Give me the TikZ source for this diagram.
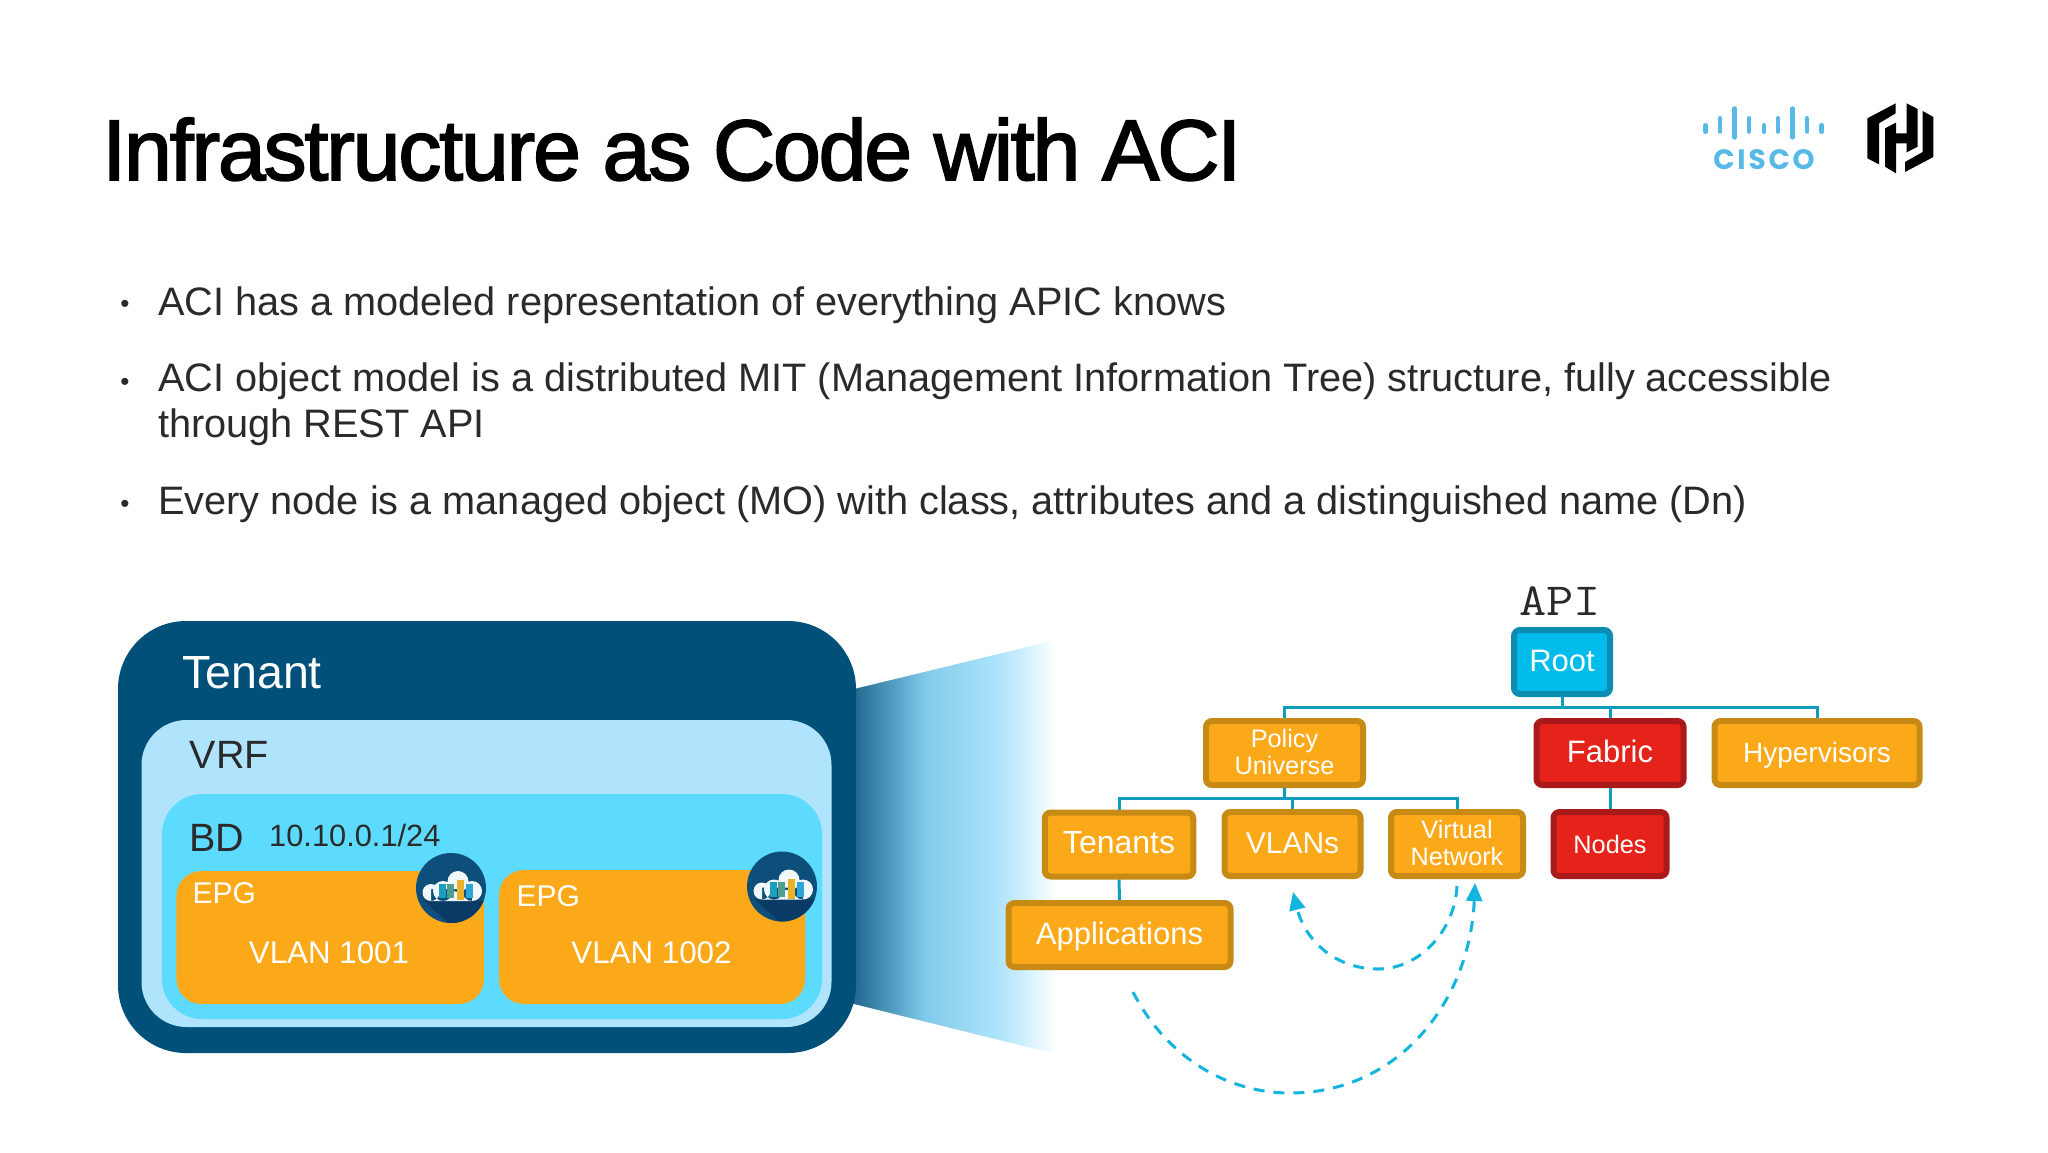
\documentclass[tikz,border=0pt]{standalone}
\usepackage{fontspec}
\usepackage{graphicx}
\setmainfont{Liberation Sans}
\newfontfamily\titlefont{Liberation Sans}[FakeBold=2,LetterSpace=-2.5]
\newfontfamily\logofont{Poppins}[LetterSpace=10]
\usetikzlibrary{arrows.meta}
\definecolor{tenantblue}{HTML}{00507A}
\definecolor{vrfblue}{HTML}{B0E4FD}
\definecolor{bdblue}{HTML}{5CDBFF}
\definecolor{epgorange}{HTML}{FCA919}
\definecolor{orangeedge}{HTML}{C78A14}
\definecolor{redfill}{HTML}{E5231B}
\definecolor{rededge}{HTML}{AB1A1A}
\definecolor{rootfill}{HTML}{00BCEB}
\definecolor{rootedge}{HTML}{0B8CB0}
\definecolor{linkblue}{HTML}{0F9CBD}
\definecolor{dashblue}{HTML}{12B5DD}
\definecolor{bodytext}{HTML}{2A2A2A}
\definecolor{ciscoblue}{HTML}{56B9E8}
\definecolor{iconblue}{HTML}{0D4F7A}
\definecolor{icondark}{HTML}{0A3A66}
\definecolor{srvA}{HTML}{1E9FBF}
\definecolor{srvB}{HTML}{4F9E8E}
\definecolor{srvC}{HTML}{E9B32A}
\definecolor{srvD}{HTML}{2BA6D6}
\definecolor{cloudwhite}{HTML}{F1F8FB}
\definecolor{fa}{HTML}{1F628A}
\definecolor{fb}{HTML}{4F9BC0}
\definecolor{fc}{HTML}{82CBEB}
\definecolor{fd}{HTML}{AAE2FB}
\definecolor{fe}{HTML}{D0F0FD}
\pgfdeclarehorizontalshading{funnelshade}{100bp}{color(0bp)=(fa); color(25bp)=(fa); color(35bp)=(fb); color(43.5bp)=(fc); color(60bp)=(fd); color(67.5bp)=(fe); color(75bp)=(white); color(100bp)=(white)}
\newcommand{\fs}[2]{\fontsize{#1}{#2}\selectfont}
\newcommand{\lift}{\rule[-2.6pt]{0pt}{0pt}}
\tikzset{
  every node/.style={inner sep=0pt},
  tbox/.style={rectangle, rounded corners=6pt, line width=6pt, minimum height=64pt,
    align=center, text=white, font=\fs{31}{28}},
  one/.style={text height=24pt, text depth=5.4pt},
  small/.style={font=\fs{25.3}{27.6}},
  oran/.style={fill=epgorange, draw=orangeedge},
  redb/.style={fill=redfill, draw=rededge},
  rootb/.style={fill=rootfill, draw=rootedge},
  link/.style={draw=linkblue, line width=3pt},
  dashed arc/.style={draw=dashblue, line width=3pt, dash pattern=on 11pt off 9pt,
    -{Triangle[length=18pt,width=16pt,fill=dashblue]}},
  bullet/.style={anchor=base, text=bodytext, font=\fs{26}{26}},
  body/.style={anchor=base west, text=bodytext, font=\fs{39.7}{46}},
  lab/.style={anchor=base west},
  ciscobar/.style={draw=ciscoblue, line width=4.6pt, line cap=round},
  pics/cloudicon/.style={code={
    \fill[iconblue] (0,0) circle (35);
    \begin{scope}
      \clip (0,0) circle (35);
      \fill[icondark] (-27,12.7) -- (34,12.7) -- (36,36) -- (-2,36) -- cycle;
    \end{scope}
    \fill[cloudwhite] (-20,4.5) circle (8.5) (-8,3) circle (10) (7,-6.5) circle (10.5) (21,3) circle (10)
      (-20,1) rectangle (21,13);
    \fill[srvA] (-12.3,-4.5) rectangle (-5.5,10);
    \fill[srvB] (-4,-4.5) rectangle (3,10);
    \fill[srvC] (5.5,-8) rectangle (13,12);
    \fill[srvD] (14.5,-4.5) rectangle (21.5,10);
  }}
}
\begin{document}
\begin{tikzpicture}[x=1pt,y=-1pt]
\useasboundingbox (0,0) rectangle (2048,1152);
\fill[white] (0,0) rectangle (2048,1152);

% Title and bullets
\node[lab, font=\fs{86}{86}\titlefont, text=black] (title) at (102,180) {Infrastructure as Code with ACI};
\node[bullet] (b1) at (125,312) {•};
\node[body] (t1) at (158,315) {ACI has a modeled representation of everything APIC knows};
\node[bullet] (b2) at (125,390) {•};
\node[anchor=north west, align=left, text=bodytext, font=\fs{39.7}{46}] (t2) at (158,359.5)
  {\strut ACI object model is a distributed MIT (Management Information Tree) structure, fully accessible\\through REST API};
\node[bullet] (b3) at (125,512.5) {•};
\node[body] (t3) at (158,514) {Every node is a managed object (MO) with class, attributes and a distinguished name (Dn)};

% Cisco logo
\foreach \x/\a/\b in {1705.7/125.3/131.7,1720/118.3/131.5,1734.7/108.5/137.3,1749/118.3/131.5,1764/125.3/131.7,1778/118.3/131.5,1792.7/108.5/137.3,1807/118.3/131.5,1821.7/125.3/131.7}
  \draw[ciscobar] (\x,\a) -- (\x,\b);
\node[anchor=base, text=ciscoblue, font=\fs{28}{28}\logofont\bfseries] (cisco) at (1764,169.5) {CISCO};

% HashiCorp logo
\begin{scope}[shift={(1860,95)},scale=0.3333]
  \fill[black] (22,70) -- (107,25) -- (107,55) -- (57,85) -- (57,208) -- (22,190) -- cycle;
  \fill[black] (75,100) -- (108,83) -- (108,115) -- (140,115) -- (140,25) -- (173,42) -- (173,155) -- (140,172) -- (140,145) -- (108,145) -- (108,235) -- (75,215) -- cycle;
  \fill[black] (220,186) -- (135,231) -- (135,201) -- (188,171) -- (188,48) -- (220,66) -- cycle;
\end{scope}

% Funnel
\path[shading=funnelshade] (850,690) -- (1056,640) -- (1056,1054) -- (850,1003) -- cycle;

% Nested panels
\node[rectangle, rounded corners=68pt, fill=tenantblue, minimum width=738pt, minimum height=432pt] (tenant) at (487,837) {};
\node[rectangle, rounded corners=45pt, fill=vrfblue, minimum width=690pt, minimum height=307pt] (vrf) at (486.5,873.5) {};
\node[rectangle, rounded corners=40pt, fill=bdblue, minimum width=660pt, minimum height=225pt] (bd) at (492,906.5) {};
\node[rectangle, rounded corners=25pt, fill=epgorange, minimum width=307.5pt, minimum height=133pt] (epgA) at (330.2,937.5) {};
\node[rectangle, rounded corners=25pt, fill=epgorange, minimum width=306pt, minimum height=134pt] (epgB) at (652,937) {};
\pic at (451,888) {cloudicon};
\pic at (782,886.5) {cloudicon};
\node[lab, text=white, font=\fs{46.5}{46.5}] (ltenant) at (182,688) {Tenant};
\node[lab, text=bodytext, font=\fs{39.5}{39.5}] (lvrf) at (189.5,768) {VRF};
\node[lab, text=bodytext, font=\fs{39.5}{39.5}] (lbd) at (189,851) {BD};
\node[lab, text=bodytext, font=\fs{30.8}{30.8}] (lip) at (269,846) {10.10.0.1/24};
\node[lab, text=white, font=\fs{30}{30}] (lepgA) at (192.5,903) {EPG};
\node[lab, text=white, font=\fs{30}{30}] (lepgB) at (516.5,906) {EPG};
\node[anchor=base, text=white, font=\fs{31.3}{31.3}] (vlanA) at (329,963.5) {VLAN 1001};
\node[anchor=base, text=white, font=\fs{31.3}{31.3}] (vlanB) at (651.5,963.5) {VLAN 1002};

% Tree
\node[anchor=base, text=bodytext, font=\fs{46}{46}\ttfamily] (api) at (1560,615) {\scalebox{1.15}[1]{API}};
\node[tbox, rootb, one, minimum width=96pt] (root) at (1562,662) {Root};
\node[tbox, oran, small, minimum width=157pt] (policy) at (1284.5,753) {Policy\\Universe\lift};
\node[tbox, redb, one, minimum width=147pt] (fabric) at (1610,753) {Fabric};
\node[tbox, oran, one, font=\fs{28}{28}, minimum width=205pt] (hyper) at (1817,753) {Hypervisors};
\node[tbox, oran, one, font=\fs{32}{32}, minimum width=148.5pt] (tenants) at (1119,844.5) {Tenants};
\node[tbox, oran, one, font=\fs{30}{30}, minimum width=136pt] (vlans) at (1292.5,844) {VLANs};
\node[tbox, oran, small, minimum width=132pt] (vn) at (1457,844) {Virtual\\Network\lift};
\node[tbox, redb, one, small, minimum width=113pt] (nodes) at (1610,844) {Nodes};
\node[tbox, oran, one, minimum width=222pt] (apps) at (1119.5,935) {Applications};

\coordinate (busA) at (1562,707);
\coordinate (busB) at (1284.5,798);
\draw[link] (root.south) -- (busA);
\draw[link] (busA) -| (policy.north);
\draw[link] (busA) -| (fabric.north);
\draw[link] (busA) -| (hyper.north);
\draw[link] (policy.south) -- (busB);
\draw[link] (busB) -| (tenants.north);
\draw[link] (busB) -| (vlans.north);
\draw[link] (busB) -| (vn.north);
\draw[link] (fabric.south) -- (nodes.north);
\draw[link] (tenants.south) -- (apps.north);

% Dashed arcs
\coordinate (arcAs) at (1457,886);
\coordinate (arcAe) at (1293,892);
\coordinate (arcBs) at (1133,992);
\coordinate (arcBe) at (1475,883);
\draw[dashed arc] (arcAs) .. controls (1455,930) and (1420,969) .. (1378,969) .. controls (1335,969) and (1305,940) .. (arcAe);
\draw[dashed arc] (arcBs) .. controls (1165,1055) and (1225,1093) .. (1290,1093) .. controls (1400,1093) and (1470,1000) .. (arcBe);
\end{tikzpicture}
\end{document}
